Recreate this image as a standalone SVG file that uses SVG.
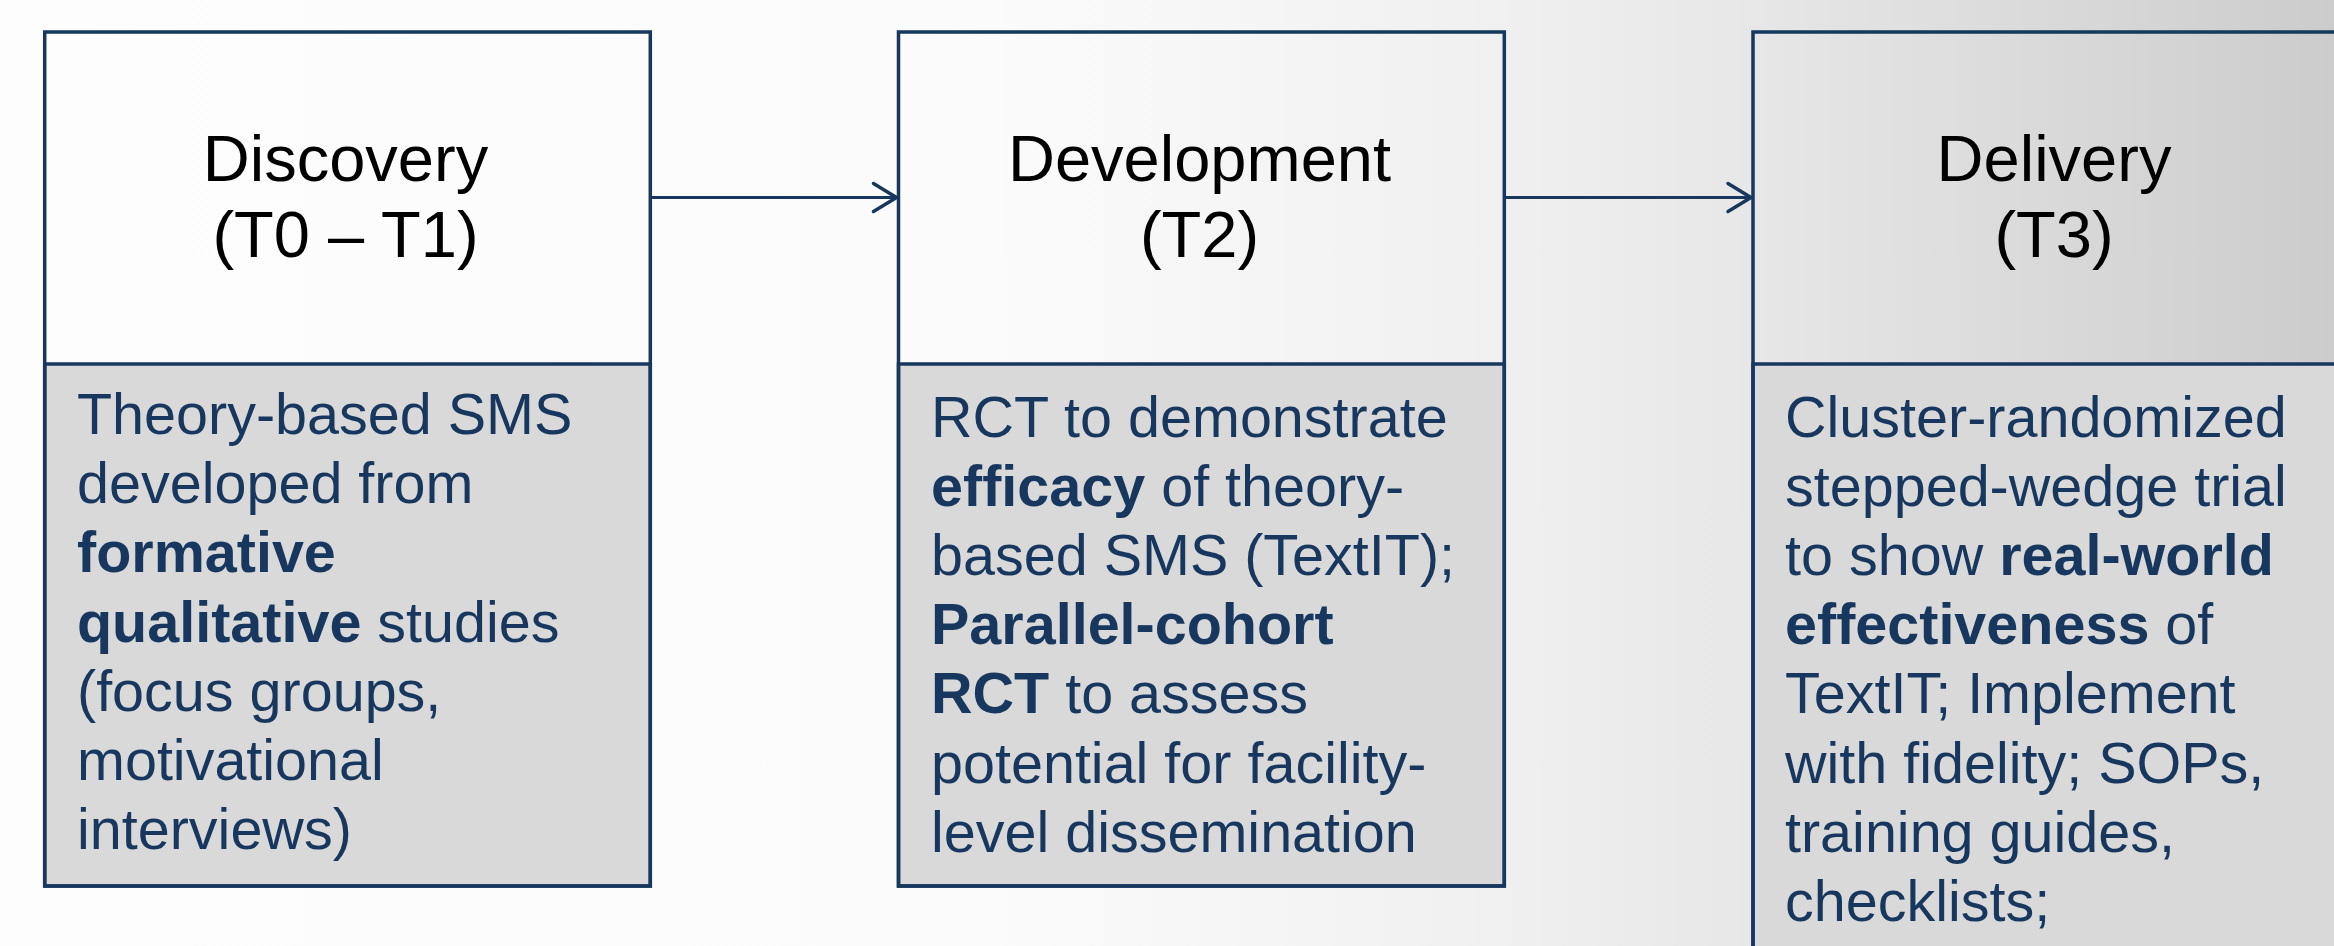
<svg xmlns="http://www.w3.org/2000/svg" width="2334" height="946" viewBox="0 0 2334 946">
  <defs>
    <linearGradient id="bg" x1="0" y1="0" x2="2334" y2="0" gradientUnits="userSpaceOnUse">
      <stop offset="0" stop-color="#FDFDFD"/>
      <stop offset="0.42" stop-color="#FBFBFB"/>
      <stop offset="0.64" stop-color="#F0F0F0"/>
      <stop offset="0.75" stop-color="#E7E7E7"/>
      <stop offset="1" stop-color="#CCCCCC"/>
    </linearGradient>
    <marker id="open-arrow" viewBox="-26 -17 30 34" refX="0" refY="0" markerWidth="30" markerHeight="34" markerUnits="userSpaceOnUse" orient="auto">
      <path d="M-23,-14 L0,0 L-23,14" fill="none" stroke="#17375E" stroke-width="3.5" stroke-linecap="round" stroke-linejoin="round"/>
    </marker>
    <style>
      .frame { fill: none; stroke: #17375E; stroke-width: 3.5; }
      .body { fill: #D9D9D9; stroke: #17375E; stroke-width: 3.5; }
      .title { font-family: "Liberation Sans", Arial, sans-serif; font-size: 65px; fill: #000000; text-anchor: middle; }
      .desc { font-family: "Liberation Sans", Arial, sans-serif; font-size: 57.5px; fill: #17375E; }
      .desc .b { font-weight: bold; }
      .link { fill: none; stroke: #17375E; stroke-width: 3.2; marker-end: url(#open-arrow); }
    </style>
  </defs>

  <rect x="0" y="0" width="2334" height="946" fill="url(#bg)"/>

  <!-- T0–T1 stage -->
  <g id="discovery">
    <rect class="body" x="44.7" y="364" width="605.6" height="522"/>
    <rect class="frame" x="44.7" y="32" width="605.6" height="854"/>
    <text class="title" x="345.5" y="181">Discovery</text>
    <text class="title" x="345.5" y="257">(T0 – T1)</text>
    <text class="desc" x="77">
      <tspan x="77" y="434">Theory-based SMS</tspan>
      <tspan x="77" y="503.2">developed from</tspan>
      <tspan x="77" y="572.4" class="b">formative</tspan>
      <tspan x="77" y="641.6"><tspan class="b">qualitative</tspan> studies</tspan>
      <tspan x="77" y="710.8">(focus groups,</tspan>
      <tspan x="77" y="780">motivational</tspan>
      <tspan x="77" y="849.2">interviews)</tspan>
    </text>
  </g>

  <!-- T2 stage -->
  <g id="development">
    <rect class="body" x="898.5" y="364" width="605.8" height="522"/>
    <rect class="frame" x="898.5" y="32" width="605.8" height="854"/>
    <text class="title" x="1199.5" y="181">Development</text>
    <text class="title" x="1199.5" y="257">(T2)</text>
    <text class="desc" x="931">
      <tspan x="931" y="436.5">RCT to demonstrate</tspan>
      <tspan x="931" y="505.7"><tspan class="b">efficacy</tspan> of theory-</tspan>
      <tspan x="931" y="574.9">based SMS (TextIT);</tspan>
      <tspan x="931" y="644.1" class="b">Parallel-cohort</tspan>
      <tspan x="931" y="713.3"><tspan class="b">RCT</tspan> to assess</tspan>
      <tspan x="931" y="782.5">potential for facility-</tspan>
      <tspan x="931" y="851.7">level dissemination</tspan>
    </text>
  </g>

  <!-- T3 stage (runs past the right and bottom edges) -->
  <g id="delivery">
    <rect class="body" x="1753" y="364" width="605.6" height="660"/>
    <rect class="frame" x="1753" y="32" width="605.6" height="992"/>
    <text class="title" x="2054" y="181">Delivery</text>
    <text class="title" x="2054" y="257">(T3)</text>
    <text class="desc" x="1785">
      <tspan x="1785" y="436.5">Cluster-randomized</tspan>
      <tspan x="1785" y="505.7">stepped-wedge trial</tspan>
      <tspan x="1785" y="574.9">to show <tspan class="b">real-world</tspan></tspan>
      <tspan x="1785" y="644.1"><tspan class="b">effectiveness</tspan> of</tspan>
      <tspan x="1785" y="713.3">TextIT; Implement</tspan>
      <tspan x="1785" y="782.5">with fidelity; SOPs,</tspan>
      <tspan x="1785" y="851.7">training guides,</tspan>
      <tspan x="1785" y="920.9">checklists;</tspan>
    </text>
  </g>

  <g id="connectors">
    <line class="link" x1="652" y1="197.5" x2="896.5" y2="197.5"/>
    <line class="link" x1="1506" y1="197.5" x2="1751" y2="197.5"/>
  </g>
</svg>
